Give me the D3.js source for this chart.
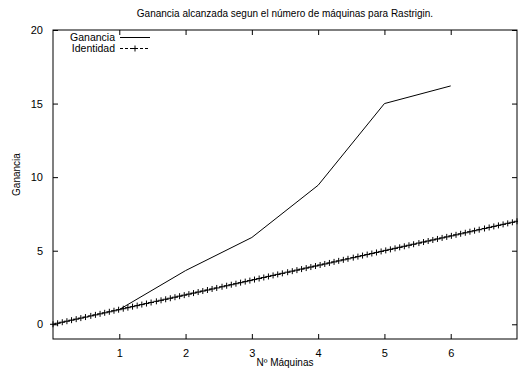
<!DOCTYPE html>
<html>
<head>
<meta charset="utf-8">
<script src="https://cdn.jsdelivr.net/npm/d3@7"></script>
<style>
  body { margin: 0; background: #fff; }
  svg { display: block; font-family: "Liberation Sans", Arial, sans-serif; }
</style>
</head>
<body>
<div id="chart"></div>
<script>
// Ganancia series (measured)
var maquinas = [1, 2, 3, 4, 5, 6];
var ganancia = [1, 3.65, 5.9, 9.45, 15.0, 16.2];

// Identidad series: gnuplot samples of y = x over [0,7]
var identidad = [0.00, 0.07, 0.14, 0.21, 0.28, 0.35, 0.42, 0.49, 0.57, 0.64,
    0.71, 0.78, 0.85, 0.92, 0.99, 1.06, 1.13, 1.20, 1.27, 1.34,
    1.41, 1.48, 1.56, 1.63, 1.70, 1.77, 1.84, 1.91, 1.98, 2.05,
    2.12, 2.19, 2.26, 2.33, 2.40, 2.47, 2.55, 2.62, 2.69, 2.76,
    2.83, 2.90, 2.97, 3.04, 3.11, 3.18, 3.25, 3.32, 3.39, 3.46,
    3.54, 3.61, 3.68, 3.75, 3.82, 3.89, 3.96, 4.03, 4.10, 4.17,
    4.24, 4.31, 4.38, 4.45, 4.53, 4.60, 4.67, 4.74, 4.81, 4.88,
    4.95, 5.02, 5.09, 5.16, 5.23, 5.30, 5.37, 5.44, 5.52, 5.59,
    5.66, 5.73, 5.80, 5.87, 5.94, 6.01, 6.08, 6.15, 6.22, 6.29,
    6.36, 6.43, 6.51, 6.58, 6.65, 6.72, 6.79, 6.86, 6.93, 7.00];

var xTicks = [1, 2, 3, 4, 5, 6];
var yTicks = [0, 5, 10, 15, 20];

var W = 518, H = 372;
var M = {top: 30, right: 1, bottom: 33, left: 53};
var iw = W - M.left - M.right, ih = H - M.top - M.bottom;

var svg = d3.select('#chart').append('svg')
    .attr('width', W).attr('height', H);

var g = svg.append('g').attr('transform', 'translate(' + M.left + ',' + M.top + ')');

var x = d3.scaleLinear().domain([0, 7]).range([0, iw]);
var y = d3.scaleLinear().domain([-1, 20]).range([ih, 0]);

// Axes with inward ticks, mirrored
function styleAxis(sel) {
    sel.select('.domain').remove();
    sel.selectAll('.tick line').attr('stroke', '#000');
    sel.selectAll('text').attr('fill', '#000').style('font-size', '11px')
        .style('font-family', '"Liberation Sans", Arial, sans-serif');
}

g.append('g')
    .attr('transform', 'translate(0,' + ih + ')')
    .call(d3.axisBottom(x).tickValues(xTicks).tickSize(-5).tickPadding(10).tickFormat(d3.format('d')))
    .call(styleAxis);

g.append('g')
    .call(d3.axisTop(x).tickValues(xTicks).tickSize(-5).tickFormat(''))
    .call(styleAxis);

g.append('g')
    .call(d3.axisLeft(y).tickValues(yTicks).tickSize(-5).tickPadding(10).tickFormat(d3.format('d')))
    .call(styleAxis);

g.append('g')
    .attr('transform', 'translate(' + iw + ',0)')
    .call(d3.axisRight(y).tickValues(yTicks).tickSize(-5).tickFormat(''))
    .call(styleAxis);

// Frame
g.append('rect')
    .attr('x', 0).attr('y', 0).attr('width', iw).attr('height', ih)
    .attr('fill', 'none').attr('stroke', '#000').attr('stroke-width', 1);

// Ganancia line
var line = d3.line()
    .x(function(d) { return x(d[0]); })
    .y(function(d) { return y(d[1]); });

g.append('path')
    .datum(maquinas.map(function(m, i) { return [m, ganancia[i]]; }))
    .attr('fill', 'none').attr('stroke', '#000').attr('stroke-width', 1)
    .attr('d', line);

// Identidad line with + markers
var idPts = identidad.map(function(v) { return [v, v]; });
g.append('path')
    .datum(idPts)
    .attr('fill', 'none').attr('stroke', '#000').attr('stroke-width', 1)
    .attr('stroke-dasharray', '3,2')
    .attr('d', line);

function plus(sel, cx, cy) {
    sel.append('path')
        .attr('d', 'M' + (cx - 3) + ',' + cy + 'H' + (cx + 3) + 'M' + cx + ',' + (cy - 3) + 'V' + (cy + 3))
        .attr('stroke', '#000').attr('stroke-width', 1).attr('fill', 'none');
}
var marks = g.append('g');
idPts.forEach(function(p) { plus(marks, x(p[0]), y(p[1])); });

// Title and axis labels
svg.append('text')
    .attr('x', M.left + iw / 2).attr('y', 17)
    .attr('text-anchor', 'middle').style('font-size', '10px')
    .text('Ganancia alcanzada segun el número de máquinas para Rastrigin.');

svg.append('text')
    .attr('x', M.left + iw / 2).attr('y', 366)
    .attr('text-anchor', 'middle').style('font-size', '10px')
    .text('Nº Máquinas');

svg.append('text')
    .attr('transform', 'translate(20,' + (M.top + ih / 2 - 10) + ') rotate(-90)')
    .attr('text-anchor', 'middle').style('font-size', '10px')
    .text('Ganancia');

// Legend
var lg = svg.append('g');
lg.append('text').attr('x', 115).attr('y', 41).attr('text-anchor', 'end')
    .style('font-size', '10.5px').text('Ganancia');
lg.append('line').attr('x1', 120).attr('x2', 150).attr('y1', 37.5).attr('y2', 37.5)
    .attr('stroke', '#000');
lg.append('text').attr('x', 115).attr('y', 52).attr('text-anchor', 'end')
    .style('font-size', '10.5px').text('Identidad');
lg.append('line').attr('x1', 120).attr('x2', 150).attr('y1', 48.5).attr('y2', 48.5)
    .attr('stroke', '#000').attr('stroke-dasharray', '3,2');
plus(lg, 135, 48.5);
</script>
</body>
</html>
